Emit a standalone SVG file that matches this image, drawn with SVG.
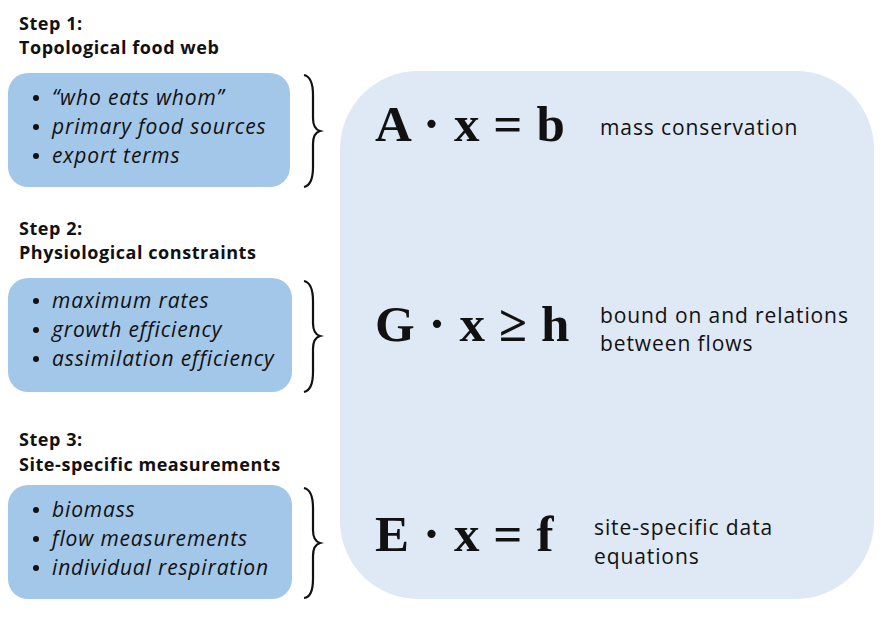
<svg xmlns="http://www.w3.org/2000/svg" width="891" height="619" viewBox="0 0 891 619">
<style>
.bg{fill:#dfe8f5}
.box{fill:#a3c7e9}
.head{font-family:"Open Sans","Noto Sans",sans-serif;font-weight:bold;font-size:18px;letter-spacing:0.55px;fill:#111}
.item{font-family:"Open Sans","Noto Sans",sans-serif;font-style:italic;font-size:21px;letter-spacing:0.85px;fill:#111}
.desc{font-family:"Open Sans","Noto Sans",sans-serif;font-size:21px;letter-spacing:0.9px;fill:#111}
.eq{font-family:"Liberation Serif","Times New Roman",serif;font-weight:bold;font-size:51px;letter-spacing:0.6px;fill:#111}
.brace{fill:none;stroke:#111;stroke-width:2.2}
.dot{fill:#111}
</style>
<rect id="main" class="bg" x="340" y="71" width="534" height="528" rx="78" ry="78"/>

<g id="step1">
<text class="head" x="19" y="30">Step 1:</text>
<text class="head" x="19" y="54">Topological food web</text>
<rect class="box" x="8" y="73" width="282" height="114" rx="20"/>
<circle class="dot" cx="36" cy="98" r="3"/>
<circle class="dot" cx="36" cy="127" r="3"/>
<circle class="dot" cx="36" cy="156" r="3"/>
<text class="item" x="52" y="105">“who eats whom”</text>
<text class="item" x="52" y="134">primary food sources</text>
<text class="item" x="52" y="163">export terms</text>
</g>

<g id="step2">
<text class="head" x="19" y="235">Step 2:</text>
<text class="head" x="19" y="259">Physiological constraints</text>
<rect class="box" x="8" y="278" width="284" height="114" rx="20"/>
<circle class="dot" cx="36" cy="301" r="3"/>
<circle class="dot" cx="36" cy="330" r="3"/>
<circle class="dot" cx="36" cy="359" r="3"/>
<text class="item" x="52" y="308">maximum rates</text>
<text class="item" x="52" y="337">growth efficiency</text>
<text class="item" x="52" y="366">assimilation efficiency</text>
</g>

<g id="step3">
<text class="head" x="19" y="446">Step 3:</text>
<text class="head" x="19" y="471">Site-specific measurements</text>
<rect class="box" x="8" y="485" width="284" height="114" rx="20"/>
<circle class="dot" cx="36" cy="510" r="3"/>
<circle class="dot" cx="36" cy="539" r="3"/>
<circle class="dot" cx="36" cy="568" r="3"/>
<text class="item" x="52" y="517">biomass</text>
<text class="item" x="52" y="546">flow measurements</text>
<text class="item" x="52" y="575">individual respiration</text>
</g>

<g id="connectors">
<path class="brace" d="M304,75 Q313,77 313,95 L313,118 Q313,129 320,131 Q313,133 313,144 L313,167 Q313,185 304,187"/>
<path class="brace" d="M304,281 Q313,283 313,301 L313,323 Q313,334 320,336 Q313,338 313,349 L313,372 Q313,390 304,392"/>
<path class="brace" d="M304,488 Q313,490 313,508 L313,530 Q313,541 320,543 Q313,545 313,556 L313,579 Q313,597 304,598"/>
</g>

<g id="eq1">
<text class="eq" x="375" y="141">A · x = b</text>
<text class="desc" x="600" y="135">mass conservation</text>
</g>
<g id="eq2">
<text class="eq" x="375" y="341">G · x ≥ h</text>
<text class="desc" x="600" y="323">bound on and relations</text>
<text class="desc" x="600" y="351">between flows</text>
</g>
<g id="eq3">
<text class="eq" x="375" y="551">E · x = f</text>
<text class="desc" x="594" y="535">site-specific data</text>
<text class="desc" x="594" y="564">equations</text>
</g>
</svg>
